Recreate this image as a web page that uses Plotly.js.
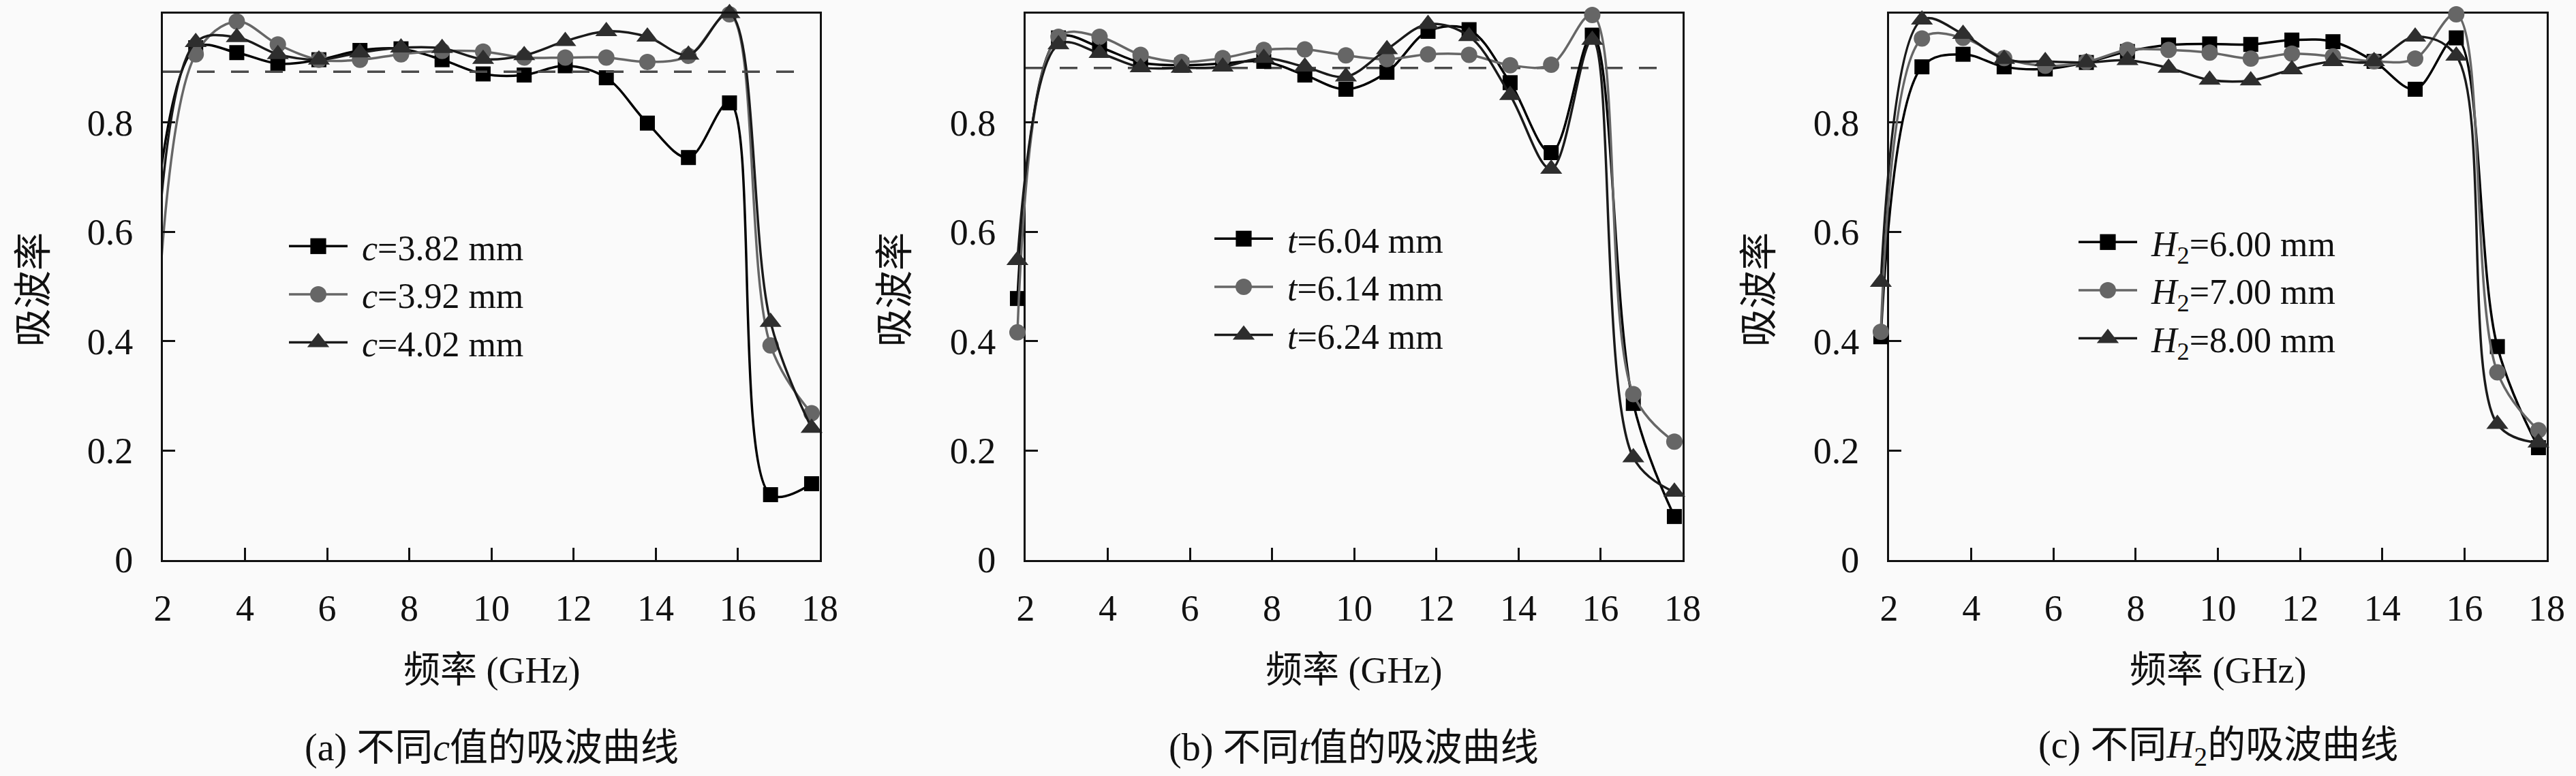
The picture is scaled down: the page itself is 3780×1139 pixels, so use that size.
<!DOCTYPE html>
<html>
<head>
<meta charset="utf-8">
<script src="https://cdn.plot.ly/plotly-3.0.1.min.js"></script>
<style>
  html, body { margin: 0; padding: 0; background: #fafafa; }
  #chart { width: 3780px; height: 1139px; }
</style>
</head>
<body>
<div id="chart"></div>
<script>
// frequency points (GHz) where the markers sit
var freq = [1.8, 2.8, 3.8, 4.8, 5.8, 6.8, 7.8, 8.8, 9.8, 10.8, 11.8, 12.8, 13.8, 14.8, 15.8, 16.8, 17.8];

// (a) different c
var c382 = [0.62, 0.937, 0.928, 0.908, 0.915, 0.932, 0.935, 0.915, 0.889, 0.887, 0.904, 0.882, 0.799, 0.736, 0.836, 0.119, 0.139];
var c392 = [0.35, 0.925, 0.985, 0.943, 0.915, 0.915, 0.925, 0.931, 0.930, 0.919, 0.919, 0.919, 0.911, 0.922, 0.998, 0.392, 0.268];
var c402 = [0.50, 0.947, 0.956, 0.925, 0.915, 0.928, 0.937, 0.936, 0.916, 0.923, 0.949, 0.967, 0.957, 0.924, 1.000, 0.435, 0.241];

// (b) different t
var t604 = [0.478, 0.955, 0.938, 0.910, 0.905, 0.908, 0.912, 0.887, 0.861, 0.892, 0.967, 0.970, 0.873, 0.745, 0.960, 0.286, 0.079];
var t614 = [0.416, 0.957, 0.957, 0.924, 0.911, 0.918, 0.933, 0.934, 0.923, 0.916, 0.925, 0.924, 0.905, 0.906, 0.997, 0.303, 0.216];
var t624 = [0.548, 0.943, 0.927, 0.901, 0.900, 0.902, 0.918, 0.902, 0.884, 0.934, 0.980, 0.958, 0.850, 0.715, 0.951, 0.187, 0.124];

// (c) different H2
var h600 = [0.408, 0.902, 0.925, 0.902, 0.898, 0.910, 0.930, 0.942, 0.944, 0.943, 0.951, 0.948, 0.912, 0.861, 0.955, 0.390, 0.205];
var h700 = [0.417, 0.954, 0.955, 0.918, 0.904, 0.911, 0.933, 0.933, 0.928, 0.917, 0.926, 0.921, 0.912, 0.917, 0.998, 0.343, 0.237];
var h800 = [0.508, 0.988, 0.962, 0.916, 0.912, 0.910, 0.914, 0.900, 0.878, 0.877, 0.897, 0.912, 0.912, 0.957, 0.922, 0.248, 0.214];

// 90% absorption reference lines
var refX = [2, 17.7];
var refA = [0.893, 0.893];
var refB = [0.9, 0.9];

var namesA = ['<i>c</i>=3.82 mm', '<i>c</i>=3.92 mm', '<i>c</i>=4.02 mm'];
var namesB = ['<i>t</i>=6.04 mm', '<i>t</i>=6.14 mm', '<i>t</i>=6.24 mm'];
var namesC = ['<i>H</i><sub>2</sub>=6.00 mm', '<i>H</i><sub>2</sub>=7.00 mm', '<i>H</i><sub>2</sub>=8.00 mm'];

var xTicks = [2, 4, 6, 8, 10, 12, 14, 16, 18];
var yTicks = [0, 0.2, 0.4, 0.6, 0.8, 1.0];
var yTickText = ['0', '0.2', '0.4', '0.6', '0.8', '1.0'];

var captions = ['(a) 不同<i>c</i>值的吸波曲线', '(b) 不同<i>t</i>值的吸波曲线', '(c) 不同<i>H</i><sub>2</sub>的吸波曲线'];

var SERIF = 'Liberation Serif, Noto Sans CJK SC, serif';
var CJK = 'Noto Sans CJK SC, sans-serif';
var INK = '#111';

var styles = [
    { symbol: 'square', size: 22, color: '#000000', line: '#000000', legScale: 1.45 },
    { symbol: 'circle', size: 24, color: '#666666', line: '#666666', legScale: 1.5 },
    { symbol: 'triangle-up', size: 28, color: '#2e2e2e', line: '#1a1a1a', legScale: 1.75 }
];

var traces = [];

// xa/ya: axes the curves are drawn on, lg: legend id
function addPanel(series, names, xa, ya, lg) {
    series.forEach(function (ys, k) {
        var st = styles[k];
        traces.push({
            x: freq,
            y: ys,
            name: names[k],
            meta: k,
            type: 'scatter',
            mode: 'lines+markers',
            xaxis: xa,
            yaxis: ya,
            legend: lg,
            cliponaxis: false,
            line: { color: st.line, width: 3.5, shape: 'spline', smoothing: 1 },
            marker: { symbol: st.symbol, color: st.color, size: st.size, line: { width: 0 } }
        });
    });
}

// (a) the 1.8 GHz points fall left of the frame and stay hidden;
// (b) and (c) show them, so their curves go on a slightly wider hidden x axis
addPanel([c382, c392, c402], namesA, 'x', 'y', 'legend');
addPanel([t604, t614, t624], namesB, 'x4', 'y2', 'legend2');
addPanel([h600, h700, h800], namesC, 'x5', 'y3', 'legend3');

[[refA, 'x', 'y'], [refB, 'x2', 'y2']].forEach(function (r) {
    traces.push({
        x: refX, y: r[0], type: 'scatter', mode: 'lines', showlegend: false,
        xaxis: r[1], yaxis: r[2],
        line: { color: '#4a4a4a', width: 3.5, dash: '26px,24px' }
    });
});
// empty trace so the framed axes of (c) get drawn
traces.push({ x: [], y: [], type: 'scatter', mode: 'lines', showlegend: false, xaxis: 'x3', yaxis: 'y3' });

var W = 3780, H = 1139;
var plotTop = 19.5, plotBottom = 821.5;
var yDomain = [1 - plotBottom / H, 1 - plotTop / H];
var xDomains = [[239, 1203], [1505, 2469], [2772, 3737]];
var extLeft = 1.7;

function xAxis(d, anchor) {
    return {
        domain: [d[0] / W, d[1] / W], anchor: anchor,
        range: [2, 18], tickvals: xTicks, ticktext: xTicks.map(String),
        ticks: 'inside', ticklen: 18, tickwidth: 3, tickcolor: INK,
        showline: true, linewidth: 3, linecolor: INK, mirror: true,
        showgrid: false, zeroline: false, fixedrange: true,
        tickfont: { family: SERIF, size: 54, color: INK },
        ticklabelstandoff: 22
    };
}
// hidden axis with the same scale as the frame axis, reaching down to 1.7 GHz
function xAxisExt(d, anchor) {
    var pxPerUnit = (d[1] - d[0]) / 16;
    var left = d[0] - (2 - extLeft) * pxPerUnit;
    return {
        domain: [left / W, d[1] / W], anchor: anchor, visible: false,
        range: [extLeft, 18], fixedrange: true, showgrid: false, zeroline: false
    };
}
function yAxis(anchor) {
    return {
        domain: yDomain, anchor: anchor,
        range: [0, 1.0], tickvals: yTicks, ticktext: yTickText,
        ticks: 'inside', ticklen: 18, tickwidth: 3, tickcolor: INK,
        showline: true, linewidth: 3, linecolor: INK, mirror: true,
        showgrid: false, zeroline: false, fixedrange: true,
        tickfont: { family: SERIF, size: 54, color: INK },
        ticklabelstandoff: 30
    };
}

function legendAt(px, py) {
    return {
        x: px / W, y: 1 - py / H, xanchor: 'left', yanchor: 'top',
        bgcolor: 'rgba(0,0,0,0)', borderwidth: 0,
        font: { family: SERIF, size: 52, color: INK },
        itemwidth: 88, tracegroupgap: 0
    };
}

var annotations = [];
xDomains.forEach(function (d, i) {
    var cx = (d[0] + d[1]) / 2 / W;
    annotations.push({
        xref: 'paper', yref: 'paper', x: cx, y: 1 - 984 / H,
        text: '频率 (GHz)', showarrow: false, xanchor: 'center', yanchor: 'middle',
        font: { family: SERIF, size: 54, color: INK }
    });
    annotations.push({
        xref: 'paper', yref: 'paper', x: cx, y: 1 - 1097 / H,
        text: captions[i], showarrow: false, xanchor: 'center', yanchor: 'middle',
        font: { family: SERIF, size: 56, color: INK }
    });
});
[44, 1308, 2576].forEach(function (px) {
    annotations.push({
        xref: 'paper', yref: 'paper', x: px / W, y: 1 - 425 / H,
        text: '吸波率', textangle: -90, showarrow: false, xanchor: 'center', yanchor: 'middle',
        font: { family: CJK, size: 56, color: INK }
    });
});

var layout = {
    width: W, height: H,
    margin: { l: 0, r: 0, t: 0, b: 0 },
    paper_bgcolor: '#fafafa', plot_bgcolor: 'rgba(0,0,0,0)',
    showlegend: true,
    xaxis: xAxis(xDomains[0], 'y'), yaxis: yAxis('x'),
    xaxis2: xAxis(xDomains[1], 'y2'), yaxis2: yAxis('x2'),
    xaxis3: xAxis(xDomains[2], 'y3'), yaxis3: yAxis('x3'),
    xaxis4: xAxisExt(xDomains[1], 'y2'),
    xaxis5: xAxisExt(xDomains[2], 'y3'),
    legend: legendAt(419, 321),
    legend2: legendAt(1777, 310),
    legend3: legendAt(3045, 315),
    annotations: annotations
};

// longer sample lines and bigger symbols in the legends, as in the print figure
// (text class is legendtext, legend2text, legend3text depending on the legend)
var LEG_LINE = 86, LEG_TEXT_GAP = 21;
function setAttr(el, k, v) {
    v = String(v);
    if (el.getAttribute(k) !== v) el.setAttribute(k, v);
}
function styleLegends(gd) {
    gd.querySelectorAll('g.traces').forEach(function (g) {
        var name = g.querySelector('text.legendtext, text.legend2text, text.legend3text');
        if (!name) return;
        var datum = g.__data__;
        var trace = datum && datum[0] && datum[0].trace;
        var idx = trace && typeof trace.meta === 'number' ? trace.meta : 0;
        if (idx < 0 || idx > 2) idx = 0;
        g.querySelectorAll('path.js-line').forEach(function (p) {
            setAttr(p, 'd', 'M5,0h' + LEG_LINE);
        });
        g.querySelectorAll('path.scatterpts').forEach(function (p) {
            setAttr(p, 'transform', 'translate(' + (5 + LEG_LINE / 2) + ',0) scale(' + styles[idx].legScale + ')');
        });
        setAttr(name, 'x', 5 + LEG_LINE + LEG_TEXT_GAP);
        var box = g.closest('g.scrollbox');
        if (box && box.hasAttribute('clip-path')) box.removeAttribute('clip-path');
    });
}

var gd = document.getElementById('chart');
// the legends may be redrawn, so restyle whenever they change
var observer = new MutationObserver(function () {
    try { styleLegends(gd); } catch (e) { console.error(e); }
});
observer.observe(gd, { childList: true, subtree: true, attributes: true });

Plotly.newPlot(gd, traces, layout, { staticPlot: true, displayModeBar: false })
    .then(function () { styleLegends(gd); });
</script>
</body>
</html>
